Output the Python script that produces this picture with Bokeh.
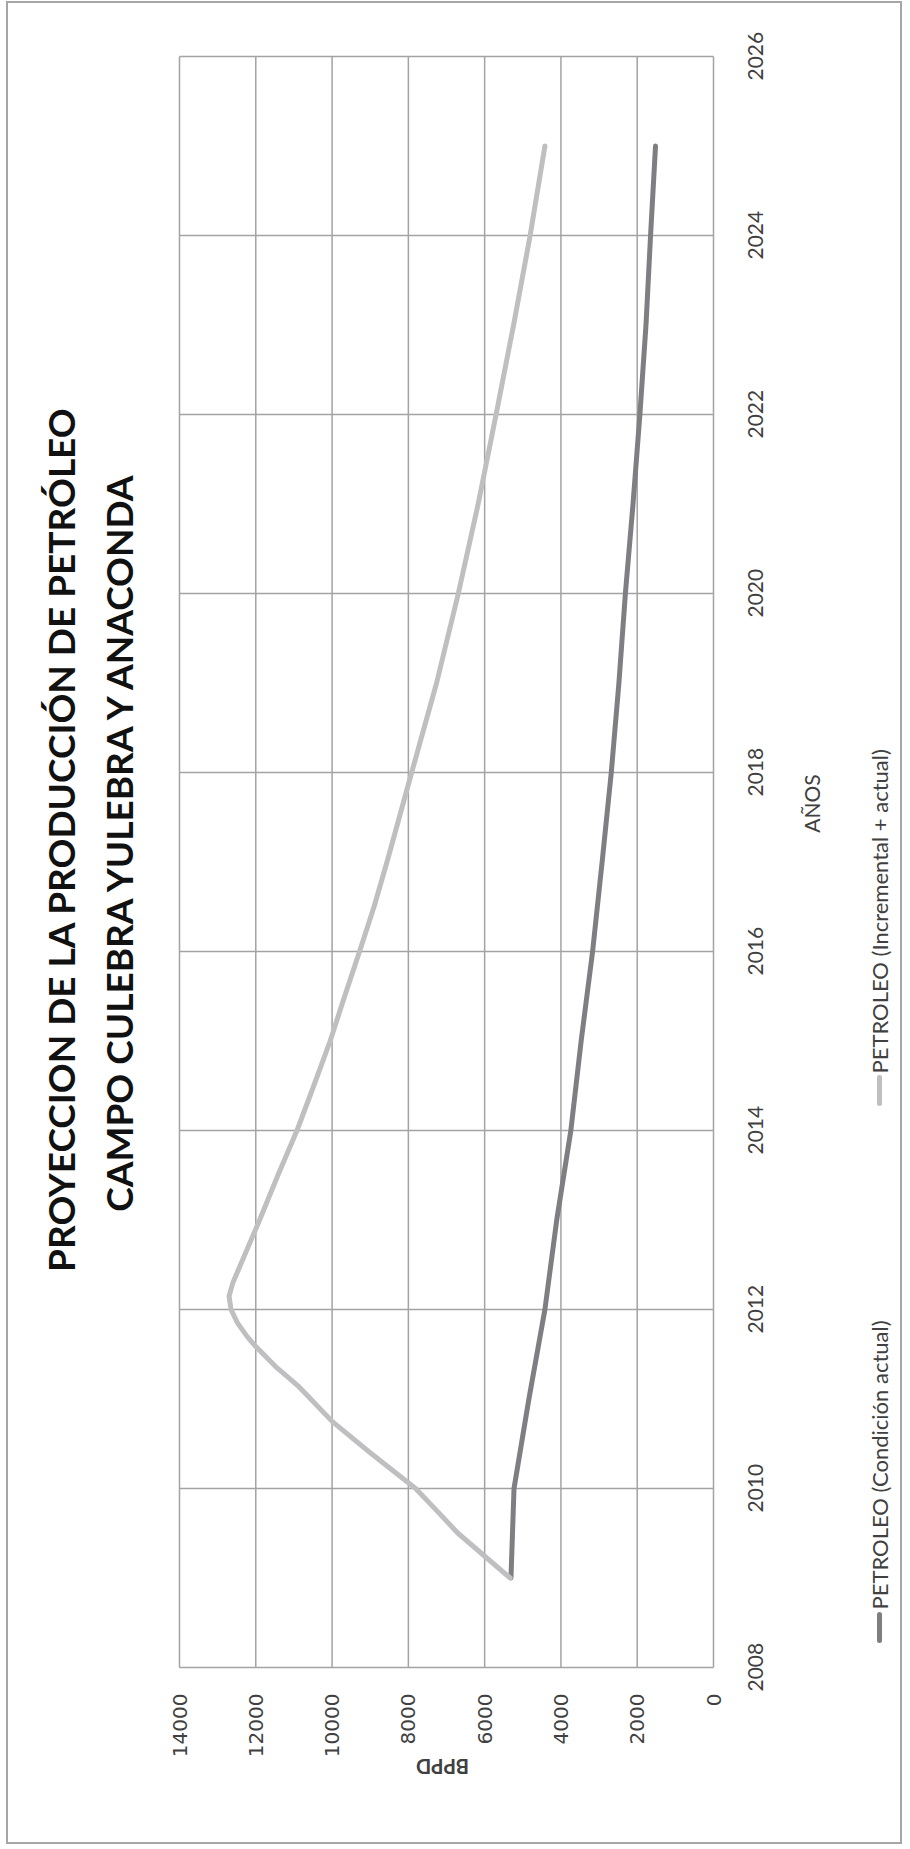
import math
from bokeh.plotting import figure
from bokeh.models import (Range1d, FixedTicker, Label, Arrow, LinearAxis,
                          CustomJSTickFormatter)
from bokeh.embed import file_html
from bokeh.resources import INLINE

# ---------------- data ----------------
year_ticks = [2008, 2010, 2012, 2014, 2016, 2018, 2020, 2022, 2024, 2026]
bppd_ticks = [0, 2000, 4000, 6000, 8000, 10000, 12000, 14000]

years_actual = [2009, 2010, 2011, 2012, 2013, 2014, 2015, 2016, 2017,
                2018, 2019, 2020, 2021, 2022, 2023, 2024, 2025]
oil_actual = [5310, 5230, 4840, 4420, 4110, 3740, 3470, 3170, 2920,
              2680, 2480, 2310, 2110, 1930, 1770, 1650, 1520]

years_incr = [2009.0, 2009.5, 2009.75, 2010.0, 2010.4, 2010.75, 2011.0,
              2011.15, 2011.35, 2011.6, 2011.7, 2011.85, 2012.0, 2012.15,
              2012.3, 2012.5, 2012.9, 2013.0, 2013.5, 2014.0, 2014.5, 2015.0,
              2015.5, 2016.0, 2016.5, 2017.0, 2018.0, 2019.0, 2020.0, 2021.0,
              2022.0, 2023.0, 2024.0, 2025.0]
oil_incr = [5330, 6700, 7250, 7810, 9000, 10000, 10560,
            10900, 11450, 12030, 12230, 12480, 12650, 12700,
            12600, 12400, 12000, 11900, 11420, 10920, 10480, 10050,
            9670, 9280, 8900, 8560, 7913, 7260, 6690, 6170,
            5700, 5241, 4807, 4420]

title_1 = "PROYECCION DE LA PRODUCCIÓN DE PETRÓLEO"
title_2 = "CAMPO CULEBRA YULEBRA Y ANACONDA"
label_actual = "PETROLEO (Condición actual)"
label_incr = "PETROLEO (Incremental + actual)"
x_title = "BPPD"
y_title = "AÑOS"

DARK = "#7f7f83"
LIGHT = "#bfbfc2"
GRID = "#a3a3a3"
TXT = "#404040"

# page geometry
OX, OY = 8, 3                      # canvas origin on the page
W, H = 896, 1843                   # canvas size
FR_L, FR_R, FR_T, FR_B = 179, 713, 56, 1667   # plot area on the page


def dx(X):
    return 14000 - (X - FR_L) * 14000 / (FR_R - FR_L)


def dy(Y):
    return 2026 - (Y - FR_T) * 18 / (FR_B - FR_T)


YOFF = 24 * 18 / (FR_B - FR_T)     # half a year label, in data units

p = figure(width=W, height=H, output_backend="svg", toolbar_location=None,
           x_range=Range1d(dx(OX), dx(OX + W)),
           y_range=Range1d(dy(OY + H), dy(OY)),
           x_axis_type=None, y_axis_type=None,
           min_border=0, min_border_left=0, min_border_right=0,
           min_border_top=0, min_border_bottom=0)
p.title.visible = False
p.margin = (1, 0, 0, 6)
p.styles = {"border": "2px solid #a6a6a6"}
p.background_fill_color = "white"
p.border_fill_color = "white"
p.outline_line_color = None
p.xgrid.visible = False
p.ygrid.visible = False

# grid lines (from tick arrays)
p.segment(x0=bppd_ticks, y0=[year_ticks[0]] * len(bppd_ticks),
          x1=bppd_ticks, y1=[year_ticks[-1]] * len(bppd_ticks),
          line_color=GRID, line_width=1.5)
p.segment(x0=[bppd_ticks[0]] * len(year_ticks), y0=year_ticks,
          x1=[bppd_ticks[-1]] * len(year_ticks), y1=year_ticks,
          line_color=GRID, line_width=1.5)

# series
p.line(oil_actual, years_actual, line_color=DARK, line_width=5,
       line_cap="round", line_join="round")
p.line(oil_incr, years_incr, line_color=LIGHT, line_width=5,
       line_cap="round", line_join="round")

# axes (placed at the edges of the plot area)
xax = LinearAxis(fixed_location=year_ticks[0], bounds=(0, 14000),
                 ticker=FixedTicker(ticks=bppd_ticks))
yax = LinearAxis(fixed_location=0, bounds=(2007, 2026),
                 ticker=FixedTicker(ticks=[t - YOFF for t in year_ticks]),
                 formatter=CustomJSTickFormatter(
                     args=dict(off=YOFF),
                     code="return Math.round(tick + off).toString();"))
for ax in (xax, yax):
    ax.axis_line_color = None
    ax.major_tick_line_color = None
    ax.minor_tick_line_color = None
    ax.major_tick_out = 0
    ax.major_tick_in = 0
    ax.major_label_orientation = math.pi / 2
    ax.major_label_text_color = TXT
xax.major_label_text_font = "DejaVu Sans"
xax.major_label_text_font_size = "20px"
xax.major_label_standoff = 26
yax.major_label_text_font = "Lato"
yax.major_label_text_font_size = "21px"
yax.major_label_standoff = 42
p.add_layout(xax, "below")
p.add_layout(yax, "right")

# titles
for txt, X in ((title_1, 60), (title_2, 118)):
    p.add_layout(Label(x=dx(X), y=dy(839), text=txt, angle=math.pi / 2,
                       text_align="center", text_baseline="middle",
                       text_font="Lato", text_font_style="bold",
                       text_font_size="37px", text_color="#111111"))

p.add_layout(Label(x=dx(442), y=dy(1766), text=x_title, angle=math.pi,
                   text_align="center", text_baseline="middle",
                   text_font="Lato", text_font_style="bold",
                   text_font_size="20px", text_color=TXT))
p.add_layout(Label(x=dx(811), y=dy(803), text=y_title, angle=math.pi / 2,
                   text_align="center", text_baseline="middle",
                   text_font="Lato", text_font_size="21px", text_color=TXT))

# legend (rotated)
for col, txt, y0, y1, yt in ((DARK, label_actual, 1640, 1614, 1609),
                             (LIGHT, label_incr, 1103, 1077, 1073)):
    p.add_layout(Arrow(end=None, x_start=dx(879), y_start=dy(y0),
                       x_end=dx(879), y_end=dy(y1), line_color=col,
                       line_width=5, line_cap="round"))
    p.add_layout(Label(x=dx(879), y=dy(yt), text=txt, angle=math.pi / 2,
                       text_align="left", text_baseline="middle",
                       text_font="Lato", text_font_size="22px",
                       text_color=TXT))

open("out.html", "w").write(file_html(p, INLINE))
